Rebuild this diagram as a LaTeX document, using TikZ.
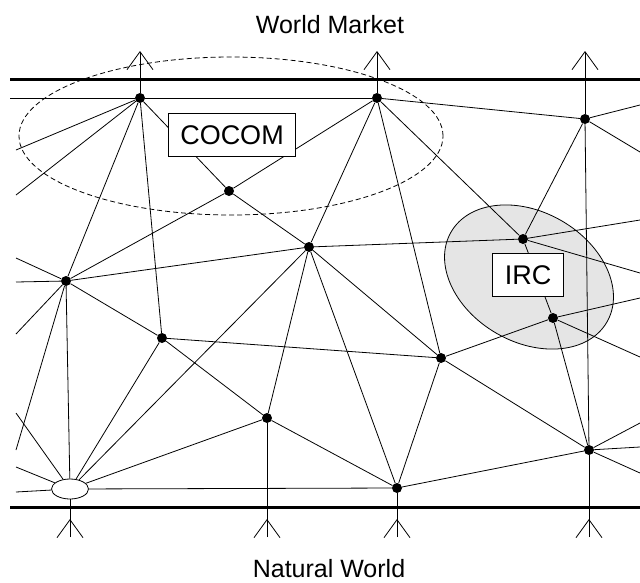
\documentclass[tikz,border=0pt]{standalone}
\usepackage{fontspec}
\setmainfont{Liberation Sans}
\usetikzlibrary{arrows.meta,shapes.geometric}
\definecolor{ircgray}{gray}{0.9}

\begin{document}
\begin{tikzpicture}[
  x=1pt, y=-1pt,
  font=\fontsize{25}{30}\selectfont,
  title/.style={inner sep=0pt},
  dot/.style={circle, fill, inner sep=0pt, minimum size=10pt},
  hub/.style={ellipse, draw, fill=white, line width=0.8pt, inner sep=0pt, minimum width=37pt, minimum height=20pt},
  link/.style={line width=0.8pt},
  bar/.style={line width=3pt},
  tag/.style={draw, fill=white, line width=0.8pt, inner xsep=12pt, minimum height=43pt, font=\fontsize{27}{32}\selectfont},
  inflow/.style={link, -{Straight Barb[length=18pt, width=26pt]}}
]
\useasboundingbox (0,0) rectangle (640,582);
\draw[link, dash pattern=on 5pt off 3pt] (231,136) ellipse [x radius=212pt, y radius=79pt];
\draw[link, fill=ircgray, rotate around={-30:(529,277)}] (529,277) ellipse [x radius=90pt, y radius=65pt];

\node[title] (market) at (330,25) {World Market};
\node[title] (nature) at (329,569) {Natural World};

\coordinate (tl) at (10,79);
\coordinate (tr) at (640,79);
\coordinate (bl) at (10,507);
\coordinate (br) at (640,507);
\coordinate (top) at (0,51);
\coordinate (foot) at (0,537);
\coordinate (foottip) at (0,519);
\draw[bar] (tl) -- (tr);
\draw[bar] (bl) -- (br);

\node[dot] (A) at (140,98) {};
\node[dot] (B) at (377,98) {};
\node[dot] (C) at (585,119) {};
\node[dot] (D) at (229,191) {};
\node[dot] (E) at (309,247) {};
\node[dot] (F) at (66,281) {};
\node[dot] (G) at (162,338) {};
\node[dot] (H) at (523,239) {};
\node[dot] (I) at (553,318) {};
\node[dot] (J) at (441,358) {};
\node[dot] (K) at (267,418) {};
\node[dot] (L) at (397,488) {};
\node[dot] (M) at (589,450) {};
\node[hub] (O) at (70,489) {};

\coordinate (lt) at (10,98);
\coordinate (l1) at (16,150);
\coordinate (l2) at (16,195);
\coordinate (l3) at (16,258);
\coordinate (l4) at (16,282);
\coordinate (l5) at (16,334);
\coordinate (l6) at (16,450);
\coordinate (l7) at (16,413);
\coordinate (l8) at (16,467);
\coordinate (l9) at (16,492);
\coordinate (r1) at (640,105);
\coordinate (r2) at (640,152);
\coordinate (r3) at (640,220);
\coordinate (r4) at (640,273);
\coordinate (r5) at (640,298);
\coordinate (r6) at (640,357);
\coordinate (r7) at (640,423);
\coordinate (r8) at (640,447);
\coordinate (r9) at (640,473);

\draw[inflow] (A) -- (A |- top);
\draw[inflow] (B) -- (B |- top);
\draw[inflow] (C) -- (C |- top);
\draw[link] (O) -- (O |- foot);
\draw[link] (K) -- (K |- foot);
\draw[link] (L) -- (L |- foot);
\draw[link] (M) -- (M |- foot);
\draw[inflow] (O |- foot) -- (O |- foottip);
\draw[inflow] (K |- foot) -- (K |- foottip);
\draw[inflow] (L |- foot) -- (L |- foottip);
\draw[inflow] (M |- foot) -- (M |- foottip);

\draw[link] (lt) -- (A);
\draw[link] (A) -- (B);
\draw[link] (B) -- (C);
\draw[link] (C) -- (r1);
\draw[link] (A) -- (l1);
\draw[link] (A) -- (l2);
\draw[link] (A) -- (F);
\draw[link] (A) -- (G);
\draw[link] (A) -- (D);
\draw[link] (D) -- (B);
\draw[link] (D) -- (F);
\draw[link] (D) -- (E);
\draw[link] (B) -- (E);
\draw[link] (B) -- (J);
\draw[link] (B) -- (H);
\draw[link] (C) -- (H);
\draw[link] (C) -- (r2);
\draw[link] (C) -- (M);
\draw[link] (H) -- (r3);
\draw[link] (H) -- (r4);
\draw[link] (H) -- (I);
\draw[link] (E) -- (H);
\draw[link] (F) -- (l3);
\draw[link] (F) -- (l4);
\draw[link] (F) -- (l5);
\draw[link] (F) -- (l6);
\draw[link] (F) -- (E);
\draw[link] (F) -- (G);
\draw[link] (F) -- (O);
\draw[link] (G) -- (O);
\draw[link] (G) -- (J);
\draw[link] (G) -- (K);
\draw[link] (E) -- (O);
\draw[link] (E) -- (K);
\draw[link] (E) -- (J);
\draw[link] (E) -- (L);
\draw[link] (J) -- (I);
\draw[link] (J) -- (L);
\draw[link] (J) -- (M);
\draw[link] (I) -- (r5);
\draw[link] (I) -- (r6);
\draw[link] (I) -- (M);
\draw[link] (M) -- (r7);
\draw[link] (M) -- (r8);
\draw[link] (M) -- (r9);
\draw[link] (L) -- (M);
\draw[link] (O) -- (l7);
\draw[link] (O) -- (l8);
\draw[link] (O) -- (l9);
\draw[link] (O) -- (K);
\draw[link] (O) -- (L);
\draw[link] (K) -- (L);

\node[tag] (cocom) at (232,135) {COCOM};
\node[tag] (irc) at (528,275) {IRC};
\end{tikzpicture}
\end{document}
